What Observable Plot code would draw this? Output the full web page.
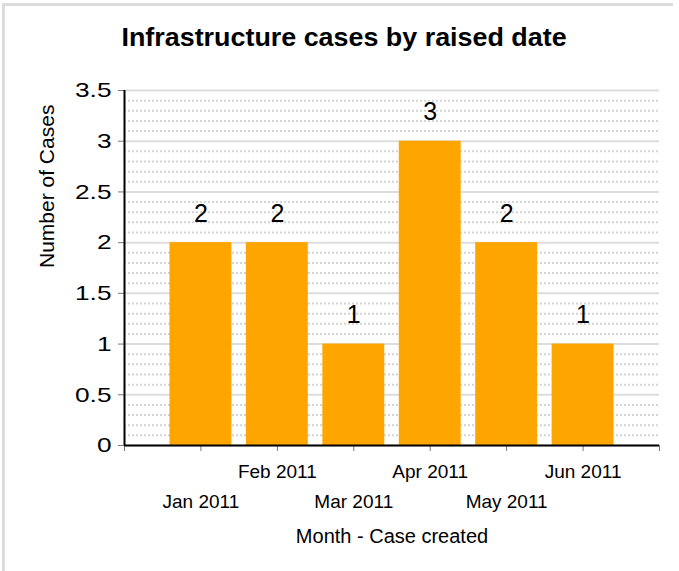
<!DOCTYPE html>
<html>
<head>
<meta charset="utf-8">
<script src="https://cdn.jsdelivr.net/npm/d3@7"></script>
<script src="https://cdn.jsdelivr.net/npm/@observablehq/plot@0.6"></script>
<style>
  html, body { margin: 0; padding: 0; background: #fff; }
  body { width: 679px; height: 571px; position: relative; overflow: hidden; font-family: "Liberation Sans", Arial, sans-serif; }
  #frame { position: absolute; left: 2px; top: 3px; width: 668px; height: 600px; border-top: 3px solid #dcdcdc; border-left: 3px solid #dcdcdc; }
  #title { position: absolute; left: 0; top: 23px; width: 689px; text-align: center; font-weight: bold; font-size: 25px; line-height: 29px; color: #000; }
  #title span { display: inline-block; transform: scaleX(1.075); }
  #chart { position: absolute; left: 0; top: 60px; }
</style>
</head>
<body>
<div id="frame"></div>
<div id="title"><span>Infrastructure cases by raised date</span></div>
<div id="chart"></div>
<script>
const months = ["Jan 2011", "Feb 2011", "Mar 2011", "Apr 2011", "May 2011", "Jun 2011"];
const cases = [2, 2, 1, 3, 2, 1];
const yTicks = [0, 0.5, 1, 1.5, 2, 2.5, 3, 3.5];
const minorTicks = d3.range(1, 35).map(k => k / 10).filter(v => Math.abs(v * 2 - Math.round(v * 2)) > 1e-9);
const xTicks = [0, 1, 2, 3, 4, 5, 6, 7];
const xTitle = "Month - Case created";
const yTitle = "Number of Cases";

const data = months.map((m, i) => ({month: m, idx: i + 1, cases: cases[i]}));
const halfBar = 0.405;

const chart = Plot.plot({
  width: 679,
  height: 511,
  marginTop: 30,
  marginBottom: 126,
  marginLeft: 124,
  marginRight: 20,
  style: {fontFamily: "'Liberation Sans', Arial, sans-serif", color: "#000", background: "transparent"},
  x: {type: "linear", domain: [0, 7], axis: null},
  y: {domain: [0, 3.5], axis: null},
  marks: [
    Plot.ruleY(minorTicks, {stroke: "#d4d4d4", strokeWidth: 2, strokeDasharray: "2,2"}),
    Plot.ruleY(yTicks, {stroke: "#dddddd", strokeWidth: 2}),
    Plot.rectY(data, {x1: d => d.idx - halfBar, x2: d => d.idx + halfBar, y1: 0, y2: "cases", fill: "#FFA500"}),
    Plot.text(data, {x: "idx", y: "cases", text: d => String(d.cases), dy: -29, fontSize: 25, fill: "#000", ariaLabel: "value-labels"}),
    Plot.axisY({ticks: yTicks, tickSize: 6, tickPadding: 7, fontSize: 21, stroke: "#777", fill: "#000", label: null, tickFormat: d => String(d)}),
    Plot.axisX({ticks: xTicks, tickSize: 6, stroke: "#777", tickFormat: () => "", label: null}),
    Plot.text(data.filter(d => d.idx % 2 === 0), {x: "idx", frameAnchor: "bottom", lineAnchor: "middle", text: "month", dy: 26.5, fontSize: 19, fill: "#000"}),
    Plot.text(data.filter(d => d.idx % 2 === 1), {x: "idx", frameAnchor: "bottom", lineAnchor: "middle", text: "month", dy: 56.5, fontSize: 19, fill: "#000"}),
    Plot.text([xTitle], {frameAnchor: "bottom", lineAnchor: "middle", text: d => d, dy: 91, fontSize: 20, fill: "#000", ariaLabel: "x-title"}),
    Plot.text([yTitle], {frameAnchor: "left", lineAnchor: "middle", text: d => d, dx: -77, rotate: -90, fontSize: 21, fill: "#000"}),
    Plot.ruleX([0], {stroke: "#000", strokeWidth: 2}),
    Plot.ruleY([0], {stroke: "#000", strokeWidth: 2})
  ]
});
document.getElementById("chart").appendChild(chart);

// widen glyphs horizontally to match the reference's wider numerals
function stretch(selector, sx) {
  chart.querySelectorAll(selector).forEach(t => {
    const tr = t.getAttribute("transform") || "";
    t.setAttribute("transform", tr + ` scale(${sx},1)`);
  });
}
stretch('g[aria-label="y-axis tick label"] text', 1.25);
stretch('g[aria-label="value-labels"] text', 1.15);
stretch('g[aria-label="x-title"] text', 1.05);
</script>
</body>
</html>
